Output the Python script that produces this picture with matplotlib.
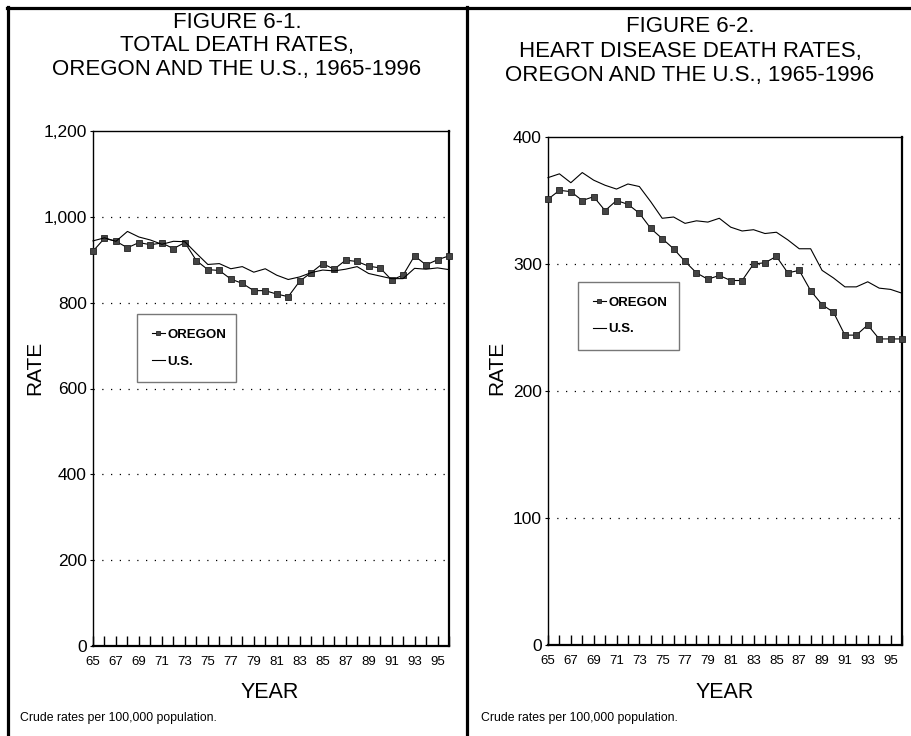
import matplotlib.pyplot as plt
from matplotlib.lines import Line2D
import numpy as np

plt.rcParams['font.family'] = ['Liberation Sans', 'DejaVu Sans']

years = np.arange(1965, 1997)

# Figure 6-1 total death rates
total_oregon = [920, 950, 943, 928, 940, 935, 939, 926, 940, 898, 877, 875, 855, 845, 828, 828,
                820, 814, 850, 870, 891, 878, 899, 896, 885, 881, 853, 864, 909, 888, 900, 909]
total_us = [944, 951, 943, 966, 953, 946, 936, 943, 942, 915, 889, 891, 879, 884, 871, 879,
            864, 854, 860, 870, 876, 874, 878, 884, 868, 862, 856, 856, 880, 878, 881, 877]

# Figure 6-2 heart disease death rates
heart_oregon = [351, 358, 357, 350, 353, 342, 350, 347, 340, 328, 320, 312, 302, 293, 288, 291,
                287, 287, 300, 301, 306, 293, 295, 279, 268, 262, 244, 244, 252, 241, 241, 241]
heart_us = [368, 371, 364, 372, 366, 362, 359, 363, 361, 349, 336, 337, 332, 334, 333, 336,
            329, 326, 327, 324, 325, 319, 312, 312, 295, 289, 282, 282, 286, 281, 280, 277]

fig = plt.figure(figsize=(9.12, 7.36), dpi=100)

# panel frames
frame = dict(color='black', lw=2.3, transform=fig.transFigure, clip_on=False)
fig.add_artist(Line2D([7/912, 1.0], [1 - 8/736, 1 - 8/736], **frame))
fig.add_artist(Line2D([8/912, 8/912], [0, 1 - 7/736], **frame))
fig.add_artist(Line2D([467/912, 467/912], [0, 1 - 7/736], **frame))


def draw_panel(rect, oregon, us, ymax, ystep, yfmt, title_lines, title_x, title_y,
               legend_box, rate_x, year_x, note_x):
    ax = fig.add_axes(rect)
    ax.plot(years, oregon, color='black', lw=0.8, marker='s', ms=4.3,
            mfc='#444444', mec='#222222', mew=0.6, label='OREGON', clip_on=False, zorder=3)
    ax.plot(years, us, color='black', lw=0.8, label='U.S.', clip_on=False, zorder=3)
    ax.set_xlim(1965, 1996)
    ax.set_ylim(0, ymax)
    yt = np.arange(0, ymax + 1, ystep)
    ax.set_yticks(yt)
    ax.set_yticklabels([yfmt(v) for v in yt], fontsize=12.5)
    for v in yt[1:-1]:
        ax.axhline(v, color='black', lw=0.9, ls=(0, (1, 6)), zorder=1)
    ax.set_xticks(years[::2])
    ax.set_xticklabels([str(y)[2:] for y in years[::2]], fontsize=9.5)
    ax.set_xticks(years[1::2], minor=True)
    ax.tick_params(axis='x', which='both', direction='in', length=7, width=1.0, pad=7)
    ax.tick_params(axis='y', direction='out', length=2.5, width=0.8, pad=2)
    for s in ax.spines.values():
        s.set_linewidth(1.0)
    ax.spines['right'].set_linewidth(1.6)
    ax.spines['bottom'].set_linewidth(1.6)

    x0, y0, w, h = legend_box
    leg = ax.legend(loc='center left', bbox_to_anchor=(x0, y0, w, h), mode='expand',
                    prop={'weight': 'bold', 'size': 9.5}, frameon=True, fancybox=False,
                    edgecolor='#777777', framealpha=1, handlelength=1.0, handletextpad=0.2,
                    borderpad=1.1, labelspacing=1.1, borderaxespad=0, markerscale=0.8)
    leg.get_frame().set_linewidth(1.0)
    leg.set_zorder(5)

    for i, line in enumerate(title_lines):
        fig.text(title_x, title_y[i], line, ha='center', va='center', fontsize=16)
    fig.text(rate_x, 1 - 368/736, 'RATE', rotation=90, ha='center', va='center', fontsize=15)
    fig.text(year_x, 1 - 693/736, 'YEAR', ha='center', va='center', fontsize=15.5)
    fig.text(note_x, 1 - 718/736, 'Crude rates per 100,000 population.', ha='left',
             va='center', fontsize=8.8)
    return ax


draw_panel([93/912, 1 - 646/736, 356/912, 515/736], total_oregon, total_us, 1200, 200,
           lambda v: f'{v:,}',
           ['FIGURE 6-1.', 'TOTAL DEATH RATES,', 'OREGON AND THE U.S., 1965-1996'],
           237/912, [1 - 22/736, 1 - 46/736, 1 - 70/736],
           (0.124, 0.518, 0.278, 0.121), 35/912, 270/912, 20/912)

draw_panel([548/912, 1 - 645/736, 354/912, 508/736], heart_oregon, heart_us, 400, 100,
           lambda v: f'{v}',
           ['FIGURE 6-2.', 'HEART DISEASE DEATH RATES,', 'OREGON AND THE U.S., 1965-1996'],
           690/912, [1 - 27/736, 1 - 51/736, 1 - 75/736],
           (0.085, 0.581, 0.285, 0.134), 497/912, 725/912, 481/912)

fig.savefig('out.png', dpi=100)
